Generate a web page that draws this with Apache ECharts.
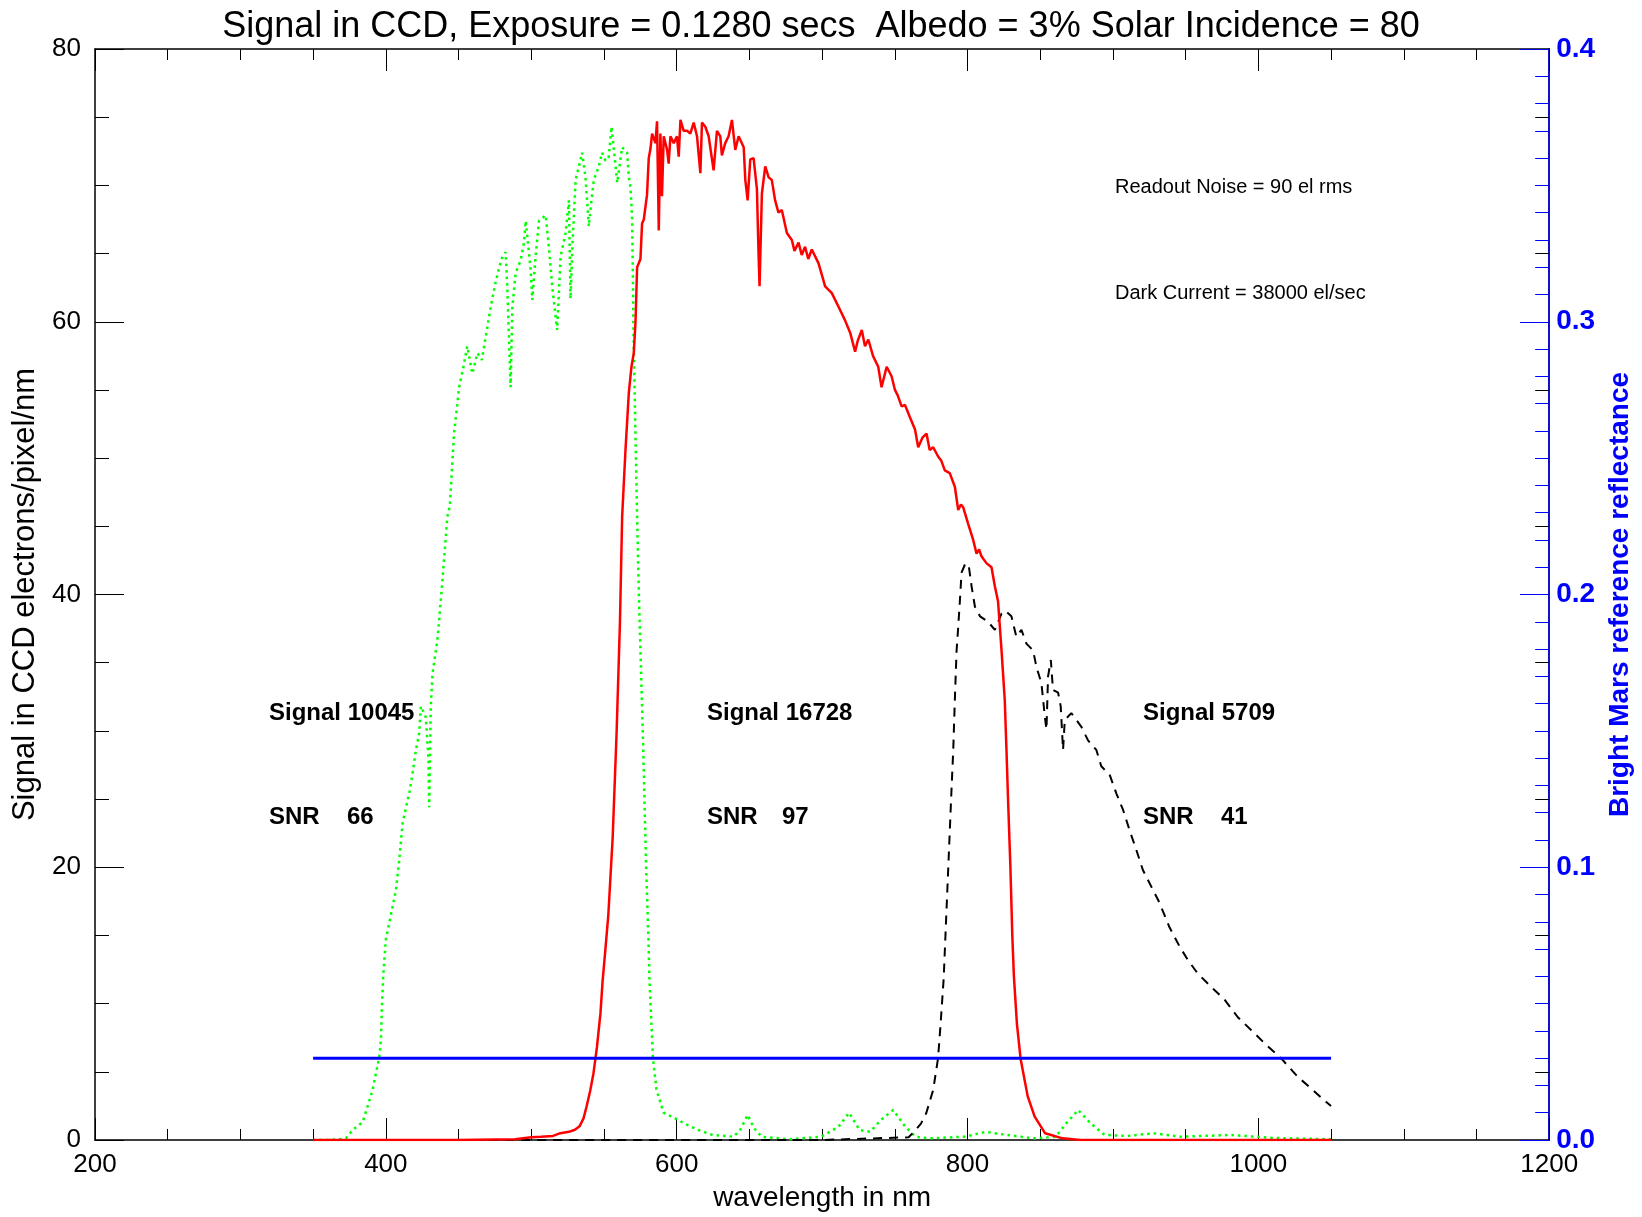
<!DOCTYPE html>
<html>
<head>
<meta charset="utf-8">
<script src="https://cdn.jsdelivr.net/npm/echarts@6/dist/echarts.min.js"></script>
<style>
  html, body { margin: 0; padding: 0; background: #fff; }
  #chart { width: 1642px; height: 1217px; }
</style>
</head>
<body>
<div id="chart"></div>
<script>
// wavelength (nm), signal (electrons/pixel/nm)
const greenSignal = [
  [350,0],[360,0],[368,0.05],[372.6,0.13],[377.2,0.73],[381.4,1.1],[384,1.3],[387.4,2.44],[390.9,3.67],
  [393.2,4.9],[395.5,6.1],[396.6,7.3],[397.3,9.8],[398.3,12.2],[400,14.7],[402.3,15.9],[404.6,17.1],
  [406.9,18.3],[409.2,20.5],[411.5,23.2],[414.9,24.9],[416.1,25.4],[418.4,26.9],[420.7,28.6],[422.9,29.8],
  [424.1,31.8],[427.5,31],[429.3,28],[429.8,24.4],[430.9,31.8],[432.1,34.2],[435.5,36.7],[438.6,40.6],
  [442.3,45.7],[444,46.5],[446.9,51.8],[450.4,55.2],[453,56.5],[456,58.2],[459.5,56.2],[463,57.7],
  [466,57.2],[468.7,58.9],[472.1,61.1],[475.5,62.9],[478,64],[480,64.7],[482.4,65.1],[483.5,62.6],
  [485.8,55.2],[487,61.1],[489.3,63.6],[492.7,64.5],[495,65.8],[496.2,67.4],[499.6,63.8],[500.7,61.6],
  [503,64.8],[505.3,67.4],[509.9,67.8],[512.1,65.5],[514.4,62.6],[517.8,59.4],[520.2,64.8],[523.6,66.5],
  [525.9,68.9],[527,61.7],[528.5,66],[530.5,70.4],[533,71.5],[535,72.4],[537.3,70.6],[539.6,67],
  [541.5,69],[543,70.4],[546.5,71.4],[548.7,72.4],[551,71.8],[553.3,72.1],[555.2,74.3],[558,71.4],
  [559.1,70.2],[562.5,72.8],[565.9,72.4],[567.1,70.6],[568.2,69.9],[569.3,67.7],[569.8,64],[570.3,59.2],
  [571.2,54.3],[572.1,49.4],[572.8,45.7],[574,40],[576.7,29.9],[579,20],[580.5,15],[581.3,11.7],
  [583.7,6],[586.1,3.7],[591,2],[600.6,1.5],[605.4,1.2],[615,0.73],[624.7,0.37],[639.2,0.24],[644,0.8],
  [648.8,1.84],[653,0.9],[658.4,0.24],[677.6,0.05],[699.3,0.24],[711.4,0.98],[718.6,2],[725.8,0.73],
  [733.1,0.6],[740.3,1.46],[748.9,2.2],[757.1,0.98],[764.3,0.24],[774,0.12],[798,0.24],[812.5,0.6],
  [826.9,0.37],[846.2,0.12],[860.6,0.24],[867.9,1.22],[876.1,2.2],[884.7,1.22],[894.3,0.37],[910,0.3],
  [928,0.49],[947.3,0.24],[981,0.37],[1010,0.15],[1050,0.05]
];

const redSignal = [
  [350,0],[400,0],[450,0],[489,0.05],[490,0.15],[500,0.2],[506.7,0.24],[515,0.3],[520,0.5],[525.9,0.6],
  [530,0.75],[533.2,1],[536,1.6],[538,2.44],[540.5,3.6],[542.8,4.9],[545.2,6.84],[547.6,9.3],[549.1,11.7],
  [551,14],[553,16.5],[556,22.2],[558.7,29.9],[561,38],[562.5,45.7],[564.8,50.6],[567.1,54.8],[568.9,56.7],
  [570.5,57.7],[571.7,60],[572.8,64],[575.1,64.6],[576.2,67.2],[577.4,67.5],[579.6,69.3],[580.8,72],
  [582,72.7],[583.1,73.8],[585.4,73.1],[586.5,74.7],[587.7,66.7],[588.8,73.8],[589.9,69.2],[591.1,73.6],
  [593.4,72.6],[594.5,71.6],[595.7,73.6],[598,73.1],[600.2,73.6],[601.4,72.1],[602.6,74.8],[604.8,74],
  [607.1,74],[609.4,73.8],[611.7,74.6],[614,73.6],[616.3,70.9],[617.4,74.6],[619.7,74.3],[622,73.6],
  [625.4,71.1],[627.7,74],[630,73.6],[631.1,72.2],[633.4,73.1],[635.7,73.6],[638,74.8],[640.3,72.6],
  [642.6,73.6],[646.1,72.8],[647.2,70.4],[648.8,68.9],[650.6,71.9],[652.9,72],[655.2,69.7],[656.3,65],
  [657,62.6],[658.6,69.4],[660.9,71.4],[663.2,70.6],[665.4,70.4],[667.7,68.9],[670,68],[672.3,68.2],
  [675.8,66.5],[679.2,66],[681,65.2],[683.8,65.8],[686,64.9],[688.3,65.5],[690.5,64.6],[692.9,65.3],
  [697.5,64.3],[702.1,62.6],[706.7,62.1],[711.3,61.1],[715.8,60.1],[719.3,59.2],[722.7,57.8],[724.5,58.6],
  [727.3,59.4],[729.5,58.2],[731.8,58.7],[735,57.5],[738.6,56.7],[740.9,55.2],[744.4,56.7],[747.8,56],
  [750.1,55],[752,54.6],[754.7,53.8],[757,53.9],[760.4,53],[763.9,52.1],[766.1,50.8],[769,51.5],
  [771.8,51.8],[774,50.6],[776.4,50.8],[779.9,50.1],[782,49.8],[784.4,49.1],[787.8,48.9],[791.3,47.9],
  [793.6,46.2],[795.5,46.6],[797,46.4],[800.4,45.2],[803.9,44],[806.2,43],[808,43.3],[809.6,42.8],
  [813,42.3],[816.5,42],[818.8,40.6],[821,39.5],[823.4,35.9],[825.6,32.3],[826.8,28.6],[827.9,24.9],
  [829.5,20],[830.8,15],[831.9,12],[834,8.5],[836.5,5.96],[841.4,3.2],[846.2,1.71],[853.4,0.49],
  [865.4,0.12],[877.5,0],[1050,0]
];

const blackSignal = [
  [350,0],[500,0],[600,0],[700,0],[759.5,0.2],[764.3,0.73],[768,1.2],[771.6,1.96],[776.4,3.67],
  [779.7,5.96],[781.2,8.07],[783.6,11.8],[786,18],[789,25.7],[790.2,28.6],[791.3,32.3],[792.5,35.9],
  [793.6,37.6],[794.8,39.6],[795.9,41.6],[798.6,42.3],[801,42],[802.8,40.6],[805.1,39.1],[808.6,38.4],
  [814.2,38],[818.8,37.4],[823.4,38.6],[826,38.8],[830.2,38.4],[833.6,36.9],[837.1,37.4],[840.5,36.4],
  [845.1,35.9],[847.4,34.7],[850.8,33.5],[852,32.3],[853.2,31],[854.3,30.1],[855.4,34],[857.3,35.2],
  [858.8,33],[862.3,32.8],[864.1,31.8],[865.7,28.6],[866.9,30.8],[871.4,31.3],[878.3,30.3],[882.9,29.3],
  [888.6,28.6],[892,27.4],[897.7,26.8],[902.4,25.4],[907,24.2],[911.5,22.7],[916,21.3],[920.6,19.8],
  [926.3,18.6],[932,17.4],[938.9,15.6],[945.8,14.2],[951.5,13.2],[958.4,12.2],[969.8,11],[976.7,10.3],
  [985.9,9],[995,8.07],[1004.2,7.1],[1015.6,6],[1027,4.64],[1036.2,3.79],[1046.5,2.8],[1050,2.5]
];

// reference reflectance (right axis)
const marsReflectance = [[350,0.03],[1050,0.03]];

const annotations = [
  'Readout Noise = 90 el rms',
  'Dark Current = 38000 el/sec'
];
const bandSignal = ['Signal 10045', 'Signal 16728', 'Signal 5709'];
const bandSnr = ['66', '97', '41'];

const font = '"Liberation Sans", Arial, sans-serif';

const chart = echarts.init(document.getElementById('chart'));

function txt(x, y, text, size, weight) {
  return {
    type: 'text', x: x, y: y, z: 10,
    style: { text: text, font: (weight || 'normal') + ' ' + size + 'px ' + font, fill: '#000', verticalAlign: 'middle' }
  };
}

chart.setOption({
  animation: false,
  backgroundColor: '#fff',
  title: {
    text: 'Signal in CCD, Exposure = 0.1280 secs  Albedo = 3% Solar Incidence = 80',
    left: 'center',
    top: 4,
    textStyle: { fontFamily: font, fontSize: 36, fontWeight: 'normal', color: '#000' }
  },
  grid: { left: 95, right: 90, top: 49, bottom: 77 },
  xAxis: [{
    type: 'value', min: 200, max: 1200, interval: 200,
    name: 'wavelength in nm', nameLocation: 'middle', nameGap: 44,
    nameTextStyle: { fontFamily: font, fontSize: 28, color: '#000' },
    axisLine: { onZero: false, lineStyle: { color: '#000', width: 1.5 } },
    axisTick: { inside: true, length: 22, lineStyle: { color: '#000' } },
    minorTick: { show: true, splitNumber: 4, length: 11, lineStyle: { color: '#000' } },
    axisLabel: { fontFamily: font, fontSize: 26, color: '#000', margin: 12, formatter: v => String(v) },
    splitLine: { show: false }
  }, {
    type: 'value', min: 200, max: 1200, interval: 200, position: 'top',
    axisLine: { onZero: false, lineStyle: { color: '#000', width: 1.5 } },
    axisTick: { inside: true, length: 22, lineStyle: { color: '#000' } },
    minorTick: { show: true, splitNumber: 4, length: 11, lineStyle: { color: '#000' } },
    axisLabel: { show: false },
    splitLine: { show: false }
  }],
  yAxis: [{
    type: 'value', min: 0, max: 80, interval: 20, position: 'left',
    name: 'Signal in CCD electrons/pixel/nm', nameLocation: 'middle', nameGap: 53,
    nameTextStyle: { fontFamily: font, fontSize: 31, color: '#000' },
    axisLine: { onZero: false, lineStyle: { color: '#000', width: 1.5 } },
    axisTick: { inside: true, length: 29, lineStyle: { color: '#000' } },
    minorTick: { show: true, splitNumber: 4, length: 14, lineStyle: { color: '#000' } },
    axisLabel: { fontFamily: font, fontSize: 26, color: '#000', margin: 14 },
    splitLine: { show: false }
  }, {
    type: 'value', min: 0, max: 80, interval: 20, position: 'right',
    axisLine: { onZero: false, lineStyle: { color: '#000', width: 1.5 } },
    axisTick: { inside: true, length: 29, lineStyle: { color: '#000' } },
    minorTick: { show: true, splitNumber: 4, length: 14, lineStyle: { color: '#000' } },
    axisLabel: { show: false },
    splitLine: { show: false }
  }, {
    type: 'value', min: 0, max: 0.4, interval: 0.1, position: 'right',
    name: 'Bright Mars reference reflectance', nameLocation: 'middle', nameGap: 52,
    nameTextStyle: { fontFamily: font, fontSize: 28, fontWeight: 'bold', color: '#0000ff' },
    axisLine: { onZero: false, lineStyle: { color: '#0000ff', width: 1.5 } },
    axisTick: { inside: true, length: 29, lineStyle: { color: '#0000ff' } },
    minorTick: { show: true, splitNumber: 10, length: 14, lineStyle: { color: '#0000ff' } },
    axisLabel: {
      fontFamily: font, fontSize: 28, fontWeight: 'bold', color: '#0000ff', margin: 7,
      formatter: v => v.toFixed(1)
    },
    splitLine: { show: false }
  }],
  series: [{
    name: 'green', type: 'line', data: greenSignal, showSymbol: false, z: 3,
    lineStyle: { color: '#00ff00', width: 2.5, type: [2.5, 4] }
  }, {
    name: 'black', type: 'line', data: blackSignal, showSymbol: false, z: 4,
    lineStyle: { color: '#000', width: 2, type: [9, 7] }
  }, {
    name: 'red', type: 'line', data: redSignal, showSymbol: false, z: 5,
    lineStyle: { color: '#ff0000', width: 2.5 }
  }, {
    name: 'reflectance', type: 'line', yAxisIndex: 2, data: marsReflectance, showSymbol: false, z: 6,
    lineStyle: { color: '#0000ff', width: 3 }
  }],
  graphic: [
    txt(1115, 187, annotations[0], 20),
    txt(1115, 293, annotations[1], 20),
    txt(269, 713, bandSignal[0], 24, 'bold'),
    txt(707, 713, bandSignal[1], 24, 'bold'),
    txt(1143, 713, bandSignal[2], 24, 'bold'),
    txt(269, 817, 'SNR', 24, 'bold'),
    txt(347, 817, bandSnr[0], 24, 'bold'),
    txt(707, 817, 'SNR', 24, 'bold'),
    txt(782, 817, bandSnr[1], 24, 'bold'),
    txt(1143, 817, 'SNR', 24, 'bold'),
    txt(1221, 817, bandSnr[2], 24, 'bold')
  ]
});
</script>
</body>
</html>
